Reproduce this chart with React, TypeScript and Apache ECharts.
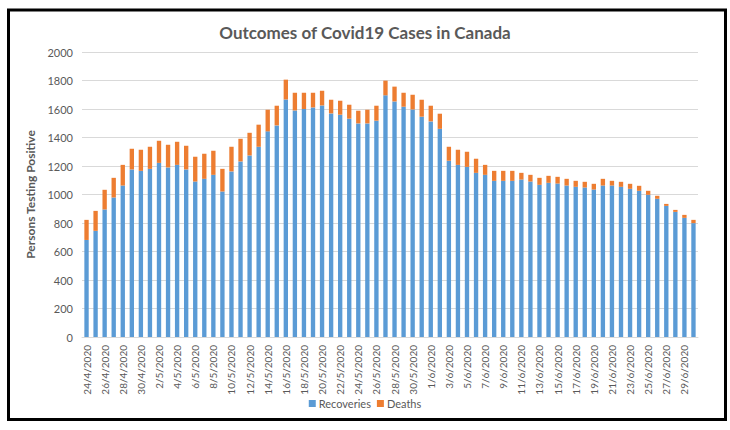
import React, { useEffect, useRef } from "react";
import * as echarts from "echarts";

const categories: string[] = [
  "24/4/2020", "25/4/2020", "26/4/2020", "27/4/2020", "28/4/2020", "29/4/2020", "30/4/2020",
  "1/5/2020", "2/5/2020", "3/5/2020", "4/5/2020", "5/5/2020", "6/5/2020", "7/5/2020", "8/5/2020",
  "9/5/2020", "10/5/2020", "11/5/2020", "12/5/2020", "13/5/2020", "14/5/2020", "15/5/2020",
  "16/5/2020", "17/5/2020", "18/5/2020", "19/5/2020", "20/5/2020", "21/5/2020", "22/5/2020",
  "23/5/2020", "24/5/2020", "25/5/2020", "26/5/2020", "27/5/2020", "28/5/2020", "29/5/2020",
  "30/5/2020", "31/5/2020", "1/6/2020", "2/6/2020", "3/6/2020", "4/6/2020", "5/6/2020",
  "6/6/2020", "7/6/2020", "8/6/2020", "9/6/2020", "10/6/2020", "11/6/2020", "12/6/2020",
  "13/6/2020", "14/6/2020", "15/6/2020", "16/6/2020", "17/6/2020", "18/6/2020", "19/6/2020",
  "20/6/2020", "21/6/2020", "22/6/2020", "23/6/2020", "24/6/2020", "25/6/2020", "26/6/2020",
  "27/6/2020", "28/6/2020", "29/6/2020", "30/6/2020",
];

const recoveries: number[] = [
  681, 745, 895, 979, 1063, 1176, 1166, 1180, 1222, 1190, 1208, 1176, 1091, 1110, 1138,
  1021, 1162, 1232, 1274, 1335, 1443, 1485, 1667, 1590, 1600, 1611, 1625, 1569, 1560,
  1532, 1499, 1499, 1518, 1696, 1653, 1616, 1597, 1546, 1513, 1461, 1237, 1208, 1194,
  1152, 1138, 1096, 1096, 1096, 1105, 1091, 1068, 1082, 1077, 1063, 1054, 1049, 1035,
  1063, 1063, 1054, 1040, 1026, 998, 970, 920, 878, 836, 799,
];

const deaths: number[] = [
  141, 140, 138, 138, 145, 145, 148, 155, 155, 159, 162, 166, 174, 176, 169,
  159, 173, 159, 159, 155, 152, 138, 139, 124, 114, 103, 103, 96, 98,
  98, 89, 96, 105, 103, 104, 98, 103, 119, 110, 106, 98, 106, 106,
  99, 70, 70, 70, 70, 47, 47, 49, 49, 47, 47, 42, 40, 40,
  47, 33, 35, 35, 35, 28, 21, 14, 14, 21, 23,
];

const yTicks = { min: 0, max: 2000, interval: 200 };

const FONT = "Lato, 'Open Sans', sans-serif";
const GREY = "#595959";

export default function App() {
  const ref = useRef<HTMLDivElement>(null);

  useEffect(() => {
    if (!ref.current) return;
    const chart = echarts.init(ref.current, null, { renderer: "svg" });
    chart.setOption({
      animation: false,
      backgroundColor: "#ffffff",
      title: {
        text: "Outcomes of Covid19 Cases in Canada",
        left: "center",
        top: 19,
        textStyle: { fontFamily: FONT, fontSize: 17, fontWeight: "bold", color: GREY },
      },
      grid: { left: 82, right: 32, top: 52, bottom: 93 },
      legend: {
        bottom: 16,
        left: "center",
        icon: "rect",
        itemWidth: 7,
        itemHeight: 7,
        itemGap: 6,
        textStyle: { fontFamily: FONT, fontSize: 11, color: GREY, padding: [0, 0, 0, -2] },
        data: ["Recoveries", "Deaths"],
      },
      xAxis: {
        type: "category",
        data: categories,
        axisLine: { lineStyle: { color: "#D9D9D9", width: 1 } },
        axisTick: { show: false },
        axisLabel: {
          interval: 1,
          rotate: 90,
          color: GREY,
          fontFamily: FONT,
          fontSize: 10,
          margin: 8,
        },
      },
      yAxis: {
        type: "value",
        min: yTicks.min,
        max: yTicks.max,
        interval: yTicks.interval,
        name: "Persons Testing Positive",
        nameLocation: "middle",
        nameGap: 36,
        nameTextStyle: { fontFamily: FONT, fontSize: 12, fontWeight: "bold", color: GREY },
        axisLine: { show: false },
        axisTick: { show: false },
        axisLabel: {
          color: GREY,
          fontFamily: FONT,
          fontSize: 11,
          margin: 9,
          formatter: (v: number) => String(v),
        },
        splitLine: { lineStyle: { color: "#D9D9D9", width: 1 } },
      },
      series: [
        {
          name: "Recoveries",
          type: "bar",
          stack: "total",
          data: recoveries,
          barWidth: "48%",
          itemStyle: { color: "#5B9BD5" },
        },
        {
          name: "Deaths",
          type: "bar",
          stack: "total",
          data: deaths,
          barWidth: "48%",
          itemStyle: { color: "#ED7D31" },
        },
      ],
      graphic: [
        {
          type: "rect",
          shape: { x: 8.5, y: 10, width: 717, height: 409.5 },
          style: { fill: "none", stroke: "#000000", lineWidth: 3 },
          silent: true,
        },
      ],
    });
    return () => chart.dispose();
  }, []);

  return (
    <div
      ref={ref}
      style={{ position: "fixed", left: 0, top: 0, width: 730, height: 430, background: "#fff" }}
    />
  );
}
